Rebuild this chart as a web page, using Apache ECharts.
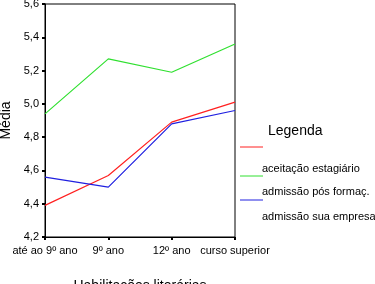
<!DOCTYPE html>
<html>
<head>
<meta charset="utf-8">
<script src="https://cdn.jsdelivr.net/npm/echarts@6/dist/echarts.min.js"></script>
<style>
  html, body { margin: 0; padding: 0; background: #fff; }
  #main { width: 375px; height: 284px; }
</style>
</head>
<body>
<div id="main"></div>
<script>
// categorias do eixo x
const categories = ["até ao 9º ano", "9º ano", "12º ano", "curso superior"];

// séries
const seriesNames = ["aceitação estagiário", "admissão pós formaç.", "admissão sua empresa"];
const seriesColors = ["#ff2020", "#30e030", "#2020e0"];
const aceitacao = [4.39, 4.57, 4.89, 5.01];
const admissaoPos = [4.94, 5.27, 5.19, 5.36];
const admissaoSua = [4.56, 4.50, 4.88, 4.96];

const font = "Liberation Sans, Arial, sans-serif";

var myChart = echarts.init(document.getElementById("main"));

var seriesData = [aceitacao, admissaoPos, admissaoSua];

var option = {
  animation: false,
  grid: {
    left: 45, right: 140, top: 4, bottom: 47,
    outerBoundsMode: "none",
    containLabel: false,
    show: true, borderColor: "#000", borderWidth: 1
  },
  xAxis: {
    type: "category",
    data: categories,
    boundaryGap: false,
    axisLine: { lineStyle: { color: "#000", width: 1 } },
    axisTick: { show: true, alignWithLabel: true, length: 3, lineStyle: { color: "#000", width: 2 } },
    axisLabel: { color: "#000", fontFamily: font, fontSize: 11, margin: 8, interval: 0 },
    name: "Habilitações literárias",
    nameLocation: "middle",
    nameGap: 42,
    nameTextStyle: { color: "#000", fontFamily: font, fontSize: 14 }
  },
  yAxis: {
    type: "value",
    min: 4.2, max: 5.6, interval: 0.2,
    splitLine: { show: false },
    axisLine: { show: true, lineStyle: { color: "#000", width: 1 } },
    axisTick: { show: true, length: 3, lineStyle: { color: "#000", width: 2 } },
    axisLabel: {
      color: "#000", fontFamily: font, fontSize: 11, margin: 6,
      formatter: (v) => v.toFixed(1).replace(".", ",")
    },
    name: "Média",
    nameLocation: "middle",
    nameGap: 30,
    nameTextStyle: { color: "#000", fontFamily: font, fontSize: 14 }
  },
  series: seriesNames.map((name, i) => ({
    name: name,
    type: "line",
    data: seriesData[i],
    symbol: "none",
    lineStyle: { color: seriesColors[i], width: 1.2 },
    itemStyle: { color: seriesColors[i] }
  })),
  graphic: [
    { type: "text", left: 268, top: 124, style: { text: "Legenda", fill: "#000", font: "14px " + font } }
  ]
};

// legenda desenhada à mão (linhas desalinhadas do texto, como no original)
const lineY = [147, 176, 200];
const textY = [163, 186, 211];
seriesNames.forEach((name, i) => {
  option.graphic.push({
    type: "line",
    shape: { x1: 240, y1: lineY[i], x2: 263, y2: lineY[i] },
    style: { stroke: seriesColors[i], lineWidth: 1 }
  });
  option.graphic.push({
    type: "text", left: 262, top: textY[i],
    style: { text: name, fill: "#000", font: "11px " + font }
  });
});

myChart.setOption(option);
</script>
</body>
</html>
